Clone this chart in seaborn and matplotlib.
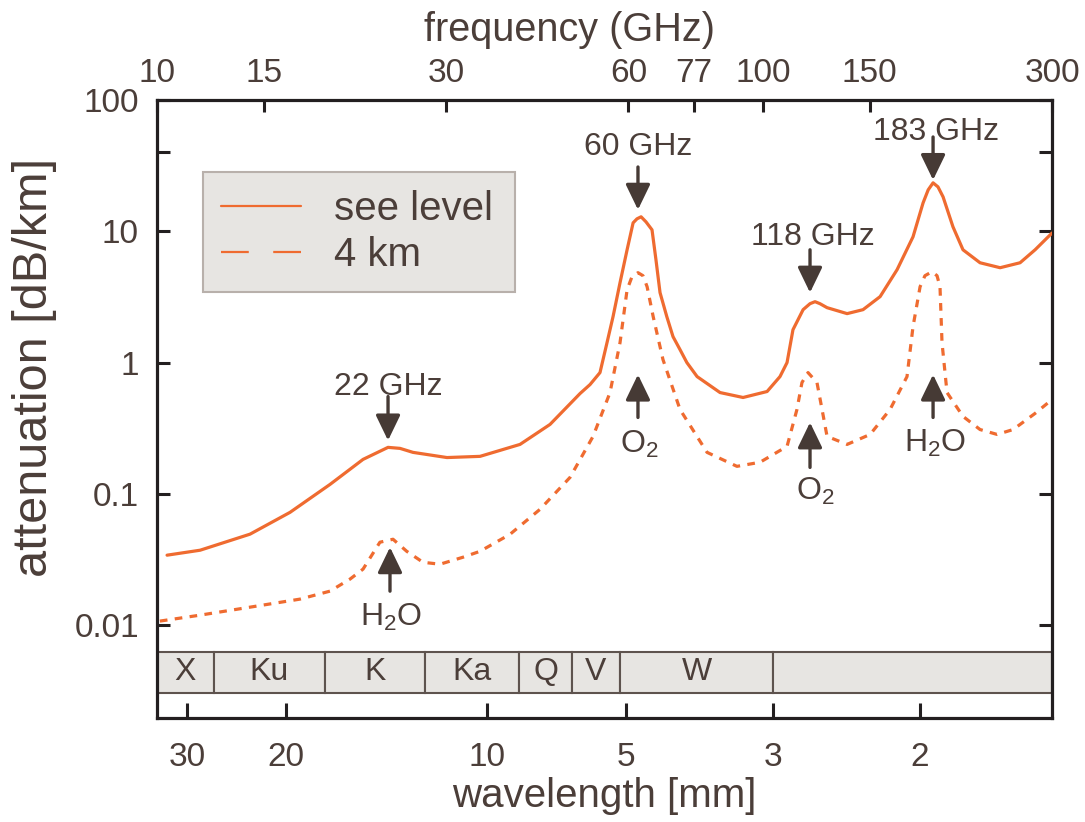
import numpy as np
import pandas as pd
import matplotlib
matplotlib.use("Agg")
import matplotlib.pyplot as plt
import seaborn as sns
from matplotlib.lines import Line2D
from matplotlib.ticker import NullLocator, FixedLocator

# ---------------- data ----------------
sea_freq = [10.39, 11.78, 14.24, 16.58, 19.30, 21.88, 24.06, 25.18, 26.45, 30.10, 34.13,
            39.73, 44.53, 49.91, 51.84, 53.84, 55.30, 56.58, 58.10, 59.68, 61.06, 61.97, 62.94,
            64.13, 65.61, 66.6, 67.64, 69.4, 71.06, 72.98, 74.9, 77.87, 84.96, 92.73, 101.6,
            106.7, 109.6, 112.1, 116.5, 119.6, 121.9, 124.2, 127.6, 137.7, 146.3, 156.1,
            166.5, 176.9, 183.8, 187.4, 190.9, 194.5, 198.3, 205.9, 213.9, 228.2, 246.3,
            265.7, 281.3, 300]
sea_att = [0.0341, 0.0372, 0.0493, 0.0723, 0.118, 0.183, 0.226, 0.222, 0.207, 0.189, 0.193,
           0.238, 0.338, 0.581, 0.68, 0.839, 1.42, 2.24, 4.06, 7.23, 11.6, 12.45, 12.9,
           11.8, 10.26, 6.07, 3.41, 2.24, 1.576, 1.255, 1.0, 0.782, 0.591, 0.542, 0.602,
           0.782, 1.0, 1.78, 2.53, 2.81, 2.91, 2.81, 2.62, 2.36, 2.53, 3.18,
           5.10, 9.08, 16.47, 20.7, 23.4, 21.8, 18.3, 10.82, 7.23, 5.76, 5.28,
           5.76, 7.23, 9.7]

km4_freq = [10.11, 11.78, 14.24, 17.21, 19.30, 20.82, 21.88, 23.33, 24.52, 25.83, 27.48,
            29.31, 31.99, 34.13, 38.25, 42.86, 48.05, 52.44, 55.93, 58.10, 59.68, 60.8,
            62.2, 63.4, 64.4, 65.9, 68.4, 72.98, 80.87, 90.6, 98.9, 109.6, 113.8, 116.0,
            118.7, 122.8, 125.2, 127.6, 137.7, 150.3, 162.1, 172.9, 176.9, 181.7, 185.1,
            190.1, 193.8, 196.0, 197.5, 201.3, 213.9, 228.2, 243.5, 258.8, 281.3, 300]
km4_att = [0.01073, 0.01191, 0.0137, 0.01577, 0.01815, 0.0224, 0.0267, 0.0428, 0.0451, 0.0365, 0.0301,
           0.0291, 0.0329, 0.0365, 0.0492, 0.0762, 0.1335, 0.274, 0.591, 1.419, 3.59, 4.51,
           4.84, 4.59, 3.78, 2.24, 1.054, 0.439, 0.207, 0.162, 0.174, 0.230, 0.439, 0.705,
           0.839, 0.705, 0.439, 0.274, 0.238, 0.2835, 0.439, 0.782, 1.878, 3.78, 4.59,
           4.92, 4.59, 3.78, 1.419, 0.591, 0.389, 0.309, 0.2835, 0.309, 0.410, 0.523]

series_labels = ["see level", "4 km"]

freq_ticks = [10, 15, 30, 60, 77, 100, 150, 300]
wavelength_labels = [30, 20, 10, 5, 3, 2]
wavelength_tick_pos = [11.2, 16.3, 35.0, 59.4, 103.9, 181.6]   # where the picture puts them (GHz axis)
att_ticks = [0.01, 0.1, 1, 10, 100]
att_tick_labels = ["0.01", "0.1", "1", "10", "100"]

band_names = ["X", "Ku", "K", "Ka", "Q", "V", "W", ""]
band_edges = [10, 12.4, 18.9, 27.7, 39.6, 48.4, 58.1, 103.9, 300]

# ---------------- style ----------------
ORANGE = "#EF6B30"
TEXT = "#4B3E39"
AXC = "#231F20"
ARROW = "#463A35"
BANDFILL = "#E7E5E2"
BANDEDGE = "#5E534E"

sns.set_style("ticks")
plt.rcParams["font.family"] = ["Liberation Sans", "DejaVu Sans"]
plt.rcParams["mathtext.fontset"] = "custom"
plt.rcParams["mathtext.rm"] = "Liberation Sans"

fig = plt.figure(figsize=(10.85, 8.22), dpi=100)
ax = fig.add_axes([0.1447, 0.1265, 0.8249, 0.7518])
ax.set_xscale("log")
ax.set_yscale("log")
ax.set_xlim(10, 300)
ax.set_ylim(0.00196, 100)

df_sea = pd.DataFrame({"freq": sea_freq, "att": sea_att})
df_km4 = pd.DataFrame({"freq": km4_freq, "att": km4_att})
sns.lineplot(data=df_sea, x="freq", y="att", ax=ax, color=ORANGE, lw=2.3, sort=False, zorder=3)
sns.lineplot(data=df_km4, x="freq", y="att", ax=ax, color=ORANGE, lw=2.3, sort=False,
             linestyle=(0, (2.4, 2.3)), zorder=3)

# band strip
for name, e0, e1 in zip(band_names, band_edges[:-1], band_edges[1:]):
    ax.axvspan(e0, e1, ymin=0.0405, ymax=0.1068, facecolor=BANDFILL, edgecolor=BANDEDGE,
               lw=1.5, zorder=2)
    if name:
        ax.text(np.sqrt(e0 * e1), 0.0737, name, transform=ax.get_xaxis_transform(),
                ha="center", va="center", fontsize=23, color=TEXT, zorder=4)

# annotations: text, text-x, text-baseline-y, arrow-x, arrow tail, arrow tip
annots = [
    ("22 GHz", 24.06, 0.571, 24.06, 0.551, 0.255),
    ("H$_\\mathregular{2}$O", 24.32, 0.00987, 24.24, 0.01814, 0.0392),
    ("60 GHz", 62.2, 38.2, 62.2, 30.9, 14.6),
    ("O$_\\mathregular{2}$", 62.6, 0.2068, 62.2, 0.382, 0.810),
    ("118 GHz", 121.1, 7.89, 119.6, 7.23, 3.41),
    ("O$_\\mathregular{2}$", 121.9, 0.0908, 119.6, 0.159, 0.350),
    ("183 GHz", 193.1, 49.6, 190.9, 52.3, 24.6),
    ("H$_\\mathregular{2}$O", 192.4, 0.2105, 190.9, 0.382, 0.810),
]
for txt, tx, ty, axx, tail, tip in annots:
    ax.text(tx, ty, txt, ha="center", va="baseline", fontsize=23, color=TEXT, zorder=5)
    ax.annotate("", xy=(axx, tip), xytext=(axx, tail),
                arrowprops=dict(arrowstyle="-|>,head_length=0.62,head_width=0.3",
                                color=ARROW, lw=2.4, shrinkA=0, shrinkB=0,
                                mutation_scale=25), zorder=5)

# bottom (wavelength) axis
ax.set_xticks(wavelength_tick_pos)
ax.set_xticklabels([str(w) for w in wavelength_labels])
ax.xaxis.set_minor_locator(NullLocator())
ax.set_yticks(att_ticks)
ax.set_yticklabels(att_tick_labels)
ax.yaxis.set_minor_locator(FixedLocator([40]))
ax.tick_params(axis="x", which="both", direction="in", length=10.5, width=2.2, color=AXC,
               labelsize=24, labelcolor=TEXT, pad=17, bottom=True, top=False)
ax.tick_params(axis="y", which="both", direction="in", length=9.5, width=2.2, color=AXC,
               labelsize=24, labelcolor=TEXT, pad=13, left=True, right=True)
ax.tick_params(axis="y", which="minor", labelleft=False)
ax.set_xlabel("wavelength [mm]", fontsize=29, color=TEXT)
ax.xaxis.set_label_coords(0.5, -0.096)
ax.set_ylabel("attenuation [dB/km]", fontsize=35, color=TEXT)
ax.yaxis.set_label_coords(-0.112, 0.568)
for s in ax.spines.values():
    s.set_linewidth(2.3)
    s.set_color(AXC)
    s.set_visible(True)

# top (frequency) axis
ax2 = ax.twiny()
ax2.set_xscale("log")
ax2.set_xlim(10, 300)
ax2.set_xticks(freq_ticks)
ax2.set_xticklabels([str(f) for f in freq_ticks])
ax2.xaxis.set_minor_locator(NullLocator())
ax2.tick_params(axis="x", which="both", direction="in", length=8.5, width=2.2, color=AXC,
                labelsize=24, labelcolor=TEXT, pad=8, top=True, bottom=False)
ax2.set_xlabel("frequency (GHz)", fontsize=28.5, color=TEXT)
ax2.xaxis.set_label_coords(0.461, 1.095)
for s in ax2.spines.values():
    s.set_visible(False)

# legend
handles = [Line2D([], [], color=ORANGE, lw=1.6),
           Line2D([], [], color=ORANGE, lw=1.6, dashes=(12.5, 11))]
leg = ax2.legend(handles, series_labels, loc="upper left",
                 bbox_to_anchor=(0.051, 0.883, 0.349, 0.0), mode="expand",
                 fontsize=29, frameon=True, fancybox=False, facecolor="#E7E5E2",
                 edgecolor="#B8B0AB", framealpha=1, borderaxespad=0, handlelength=2.0,
                 handletextpad=0.8, labelspacing=0.18, borderpad=0.45, labelcolor=TEXT)
leg.get_frame().set_linewidth(1.5)

fig.savefig("out.png", dpi=100)
